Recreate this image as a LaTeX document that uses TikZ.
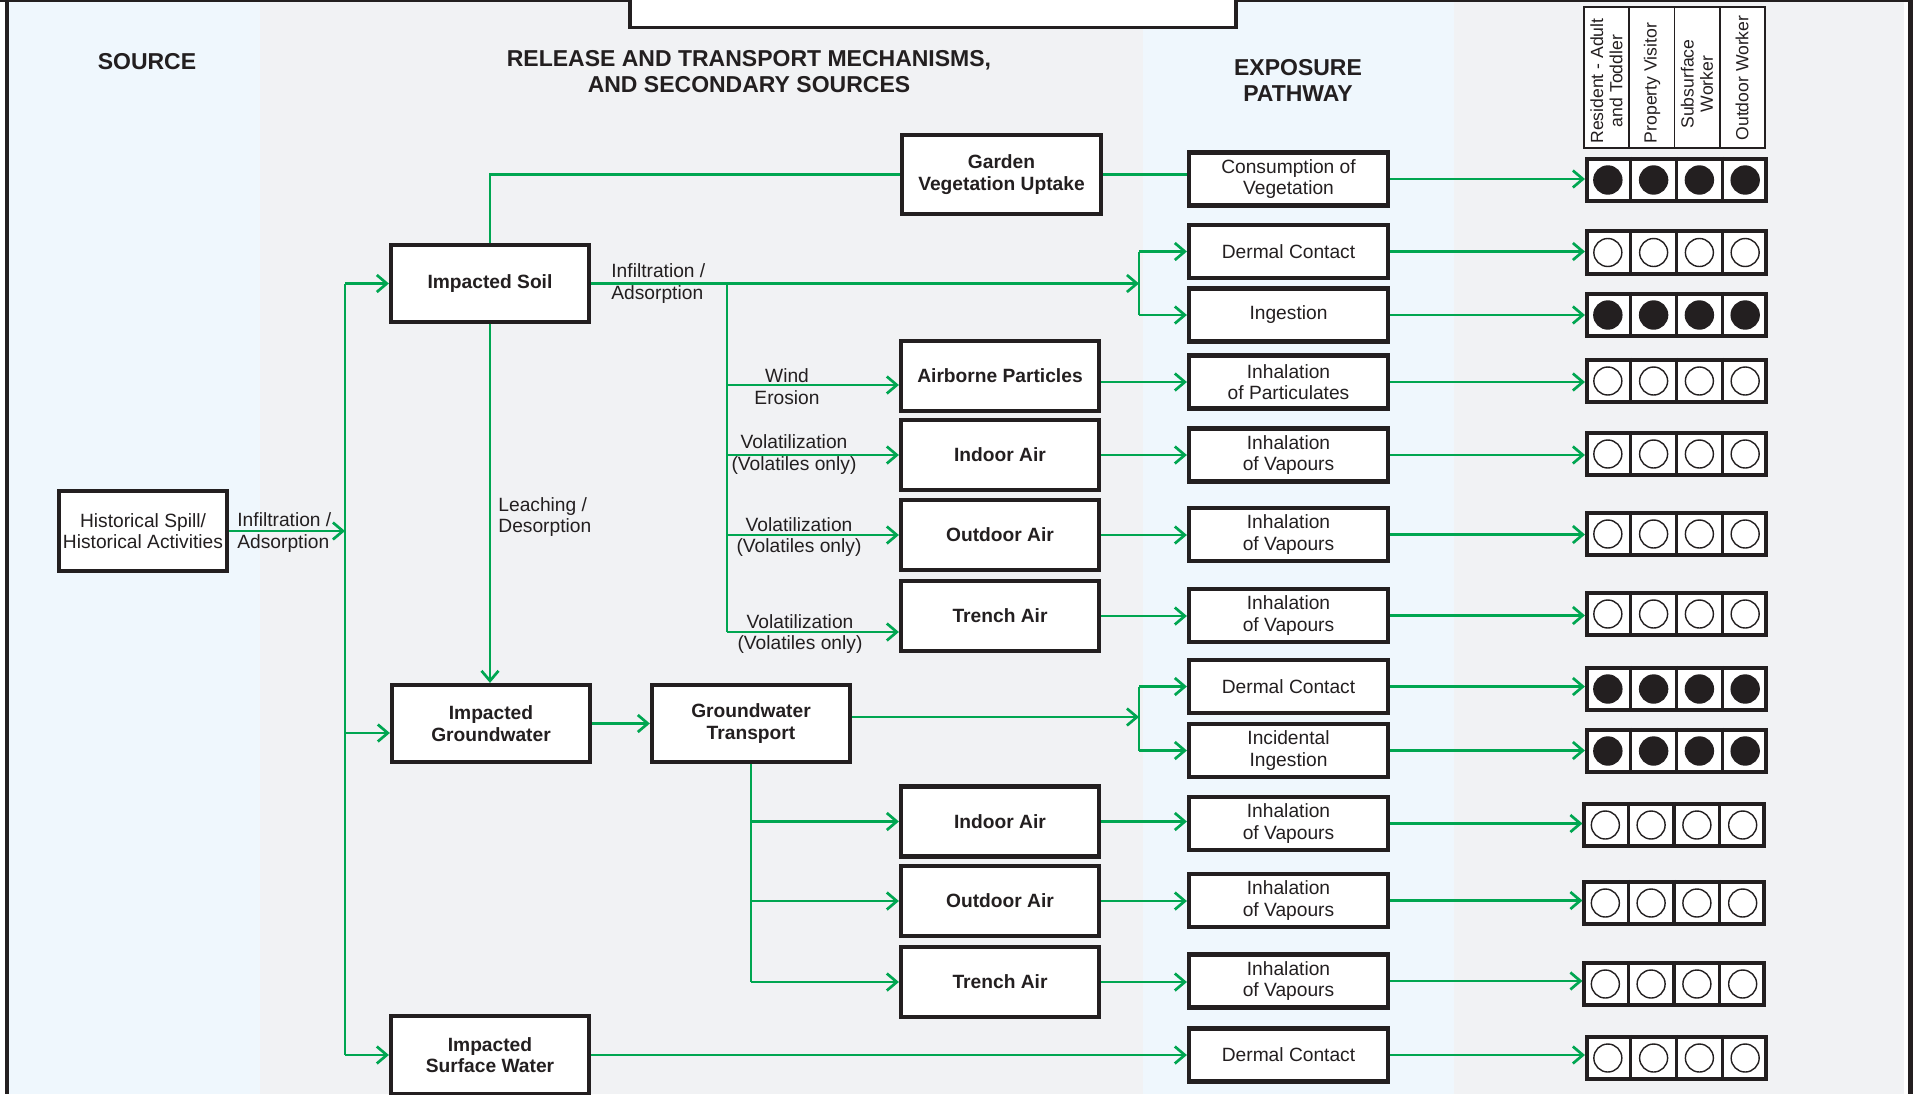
\documentclass[tikz,border=0pt]{standalone}
\usepackage{fontspec}
\setmainfont{Liberation Sans}
\usetikzlibrary{arrows.meta,calc}
\definecolor{ink}{HTML}{231F20}
\definecolor{flowgreen}{HTML}{00A651}
\definecolor{paneblue}{HTML}{EFF7FD}
\definecolor{panegray}{HTML}{F1F2F4}

% one receptor row: name, x, y, dot style
\newcommand\recrow[4]{%
  \node[recbox] (#1) at (#2,#3) {};
  \foreach \k in {1,2,3}{%
    \draw[recline] ($(#1.north west)!\k/4!(#1.north east)$) -- ($(#1.south west)!\k/4!(#1.south east)$);}
  \foreach \k in {1,3,5,7}{%
    \draw[#4] ($(#1.west)!\k/8!(#1.east)$) circle[radius=7pt];}
}

\begin{document}
\begin{tikzpicture}[x=0.5pt,y=-0.5pt,
  sz/.style 2 args={minimum width=#1*0.5pt, minimum height=#2*0.5pt},
  box/.style={draw=ink, line width=2.1pt, fill=white, inner sep=0pt, align=center,
    text=ink, font=\fontsize{9.6}{10.8}\selectfont\bfseries},
  expbox/.style={box, font=\fontsize{9.6}{10.8}\selectfont, sz={199}{53}},
  midbox/.style={box, sz={198}{70}},
  lbl/.style={text=ink, font=\fontsize{9.6}{10.8}\selectfont, inner sep=0pt},
  hdr/.style={text=ink, font=\fontsize{11.5}{13}\selectfont\bfseries, align=center, inner sep=0pt},
  rotlbl/.style={text=ink, font=\fontsize{8.8}{9.6}\selectfont, align=center, inner sep=0pt, rotate=90},
  flow/.style={draw=flowgreen, line width=1.35pt},
  arr/.style={flow, -{Straight Barb[length=5pt,width=8.5pt]}},
  recbox/.style={draw=ink, line width=1.8pt, fill=white, minimum width=179.5*0.5pt, minimum height=42.5*0.5pt, inner sep=0pt},
  recline/.style={draw=ink, line width=1.6pt},
  dotfull/.style={draw=ink, fill=ink, line width=0.7pt},
  dotopen/.style={draw=ink, fill=white, line width=0.7pt},
]
\useasboundingbox (0,0) rectangle (1913,1094);
\clip (0,0) rectangle (1913,1094);

% column panels
\fill[white] (0,0) rectangle (1913,1094);
\fill[paneblue] (9,0) rectangle (260,1094);
\fill[panegray] (260,0) rectangle (1143,1094);
\fill[paneblue] (1143,0) rectangle (1454,1094);
\fill[panegray] (1454,0) rectangle (1904,1094);

% frame
\draw[ink, line width=1pt] (0,1) -- (1913,1);
\draw[ink, line width=2.25pt] (6.75,0) -- (6.75,1094);
\draw[ink, line width=2.5pt] (1910.5,0) -- (1910.5,1094);
\draw[ink, line width=1.75pt, fill=white] (630,-20) rectangle (1236,27.5);

% column headings
\node[hdr] (hsrc) at (147,62) {SOURCE};
\node[hdr] (hrel) at (749,72) {RELEASE AND TRANSPORT MECHANISMS,\\AND SECONDARY SOURCES};
\node[hdr] (hexp) at (1298,80) {EXPOSURE\\PATHWAY};

% receptor heading table
\node[draw=ink, line width=0.75pt, fill=white, inner sep=0pt, minimum width=181*0.5pt, minimum height=141*0.5pt] (rh) at (1674.5,77.5) {};
\foreach \k in {1,2,3}{%
  \draw[ink, line width=0.75pt] ($(rh.north west)!\k/4!(rh.north east)$) -- ($(rh.south west)!\k/4!(rh.south east)$);}
\node[rotlbl] (rc1) at (1606.5,81) {Resident - Adult\\and Toddler};
\node[rotlbl] (rc2) at (1652,83) {Property Visitor};
\node[rotlbl] (rc3) at (1697,84) {Subsurface\\Worker};
\node[rotlbl] (rc4) at (1742,78) {Outdoor Worker};

% sources and secondary sources
\node[box, sz={168}{80}, font=\fontsize{9.6}{10.8}\selectfont] (src) at (143,531) {Historical Spill/\\Historical Activities};
\node[box, sz={198}{77}] (soil) at (490,283.5) {Impacted Soil};
\node[box, sz={198}{77}] (gw) at (491,723.5) {Impacted\\Groundwater};
\node[box, sz={198}{78}] (sw) at (490,1055) {Impacted\\Surface Water};
\node[box, sz={199}{79}] (garden) at (1001.5,174.5) {Garden\\Vegetation Uptake};
\node[box, sz={198}{77}] (gt) at (751,723.5) {Groundwater\\Transport};

\node[midbox] (mpart) at (1000,376) {Airborne Particles};
\node[midbox] (mia) at (1000,455) {Indoor Air};
\node[midbox] (moa) at (1000,535) {Outdoor Air};
\node[midbox] (mta) at (1000,616) {Trench Air};
\node[midbox] (mib) at (1000,821.5) {Indoor Air};
\node[midbox] (mob) at (1000,901) {Outdoor Air};
\node[midbox] (mtb) at (1000,982) {Trench Air};

% exposure pathways
\node[expbox] (e1) at (1288.5,179) {Consumption of\\Vegetation};
\node[expbox] (e2) at (1288.5,251.5) {Dermal Contact};
\node[expbox] (e3) at (1288.5,315) {Ingestion};
\node[expbox] (e4) at (1288.5,382) {Inhalation\\of Particulates};
\node[expbox] (e5) at (1288.5,455) {Inhalation\\of Vapours};
\node[expbox] (e6) at (1288.5,534.5) {Inhalation\\of Vapours};
\node[expbox] (e7) at (1288.5,615.5) {Inhalation\\of Vapours};
\node[expbox] (e8) at (1288.5,686.5) {Dermal Contact};
\node[expbox] (e9) at (1288.5,750.5) {Incidental\\Ingestion};
\node[expbox] (e10) at (1288.5,823.5) {Inhalation\\of Vapours};
\node[expbox] (e11) at (1288.5,900.5) {Inhalation\\of Vapours};
\node[expbox] (e12) at (1288.5,981) {Inhalation\\of Vapours};
\node[expbox] (e13) at (1288.5,1055) {Dermal Contact};

% receptor rows
\recrow{r1}{1676.5}{180}{dotfull}
\recrow{r2}{1676.5}{252.5}{dotopen}
\recrow{r3}{1676.5}{315}{dotfull}
\recrow{r4}{1676.5}{381}{dotopen}
\recrow{r5}{1676.5}{454}{dotopen}
\recrow{r6}{1676.5}{534}{dotopen}
\recrow{r7}{1676.5}{614}{dotopen}
\recrow{r8}{1676.5}{689}{dotfull}
\recrow{r9}{1676.5}{751}{dotfull}
\recrow{r10}{1674}{825}{dotopen}
\recrow{r11}{1674}{903}{dotopen}
\recrow{r12}{1674}{984}{dotopen}
\recrow{r13}{1676.5}{1058}{dotopen}

% source trunk
\coordinate (tkx) at (345,0);
\coordinate (gwin) at (345,733);
\draw[arr] (src.east) -- (src.east -| tkx);
\draw[flow] (soil.west -| tkx) -- (sw.west -| tkx);
\draw[arr] (soil.west -| tkx) -- (soil.west);
\draw[arr] (gwin) -- (gwin -| gw.west);
\draw[arr] (sw.west -| tkx) -- (sw.west);
\node[lbl, anchor=west, align=left] (l1) at (237,532.5) {Infiltration /\\Adsorption};

% impacted soil
\draw[flow] (soil.north) |- (garden.west);
\draw[flow] (garden.east) -- (garden.east -| e1.west);
\coordinate (fk1) at (1139,283.5);
\draw[arr] (soil.east) -- (soil.east -| fk1);
\draw[flow] (fk1 |- e2.west) -- (fk1 |- e3.west);
\draw[arr] (fk1 |- e2.west) -- (e2.west);
\draw[arr] (fk1 |- e3.west) -- (e3.west);
\node[lbl, anchor=west, align=left] (l2) at (611,283.5) {Infiltration /\\Adsorption};

\coordinate (sbx) at (727,0);
\coordinate (w1) at (727,385);
\coordinate (w4) at (727,632);
\draw[flow] (soil.east -| sbx) -- (w4);
\draw[arr] (w1) -- (w1 -| mpart.west);
\draw[arr] (mia.west -| sbx) -- (mia.west);
\draw[arr] (moa.west -| sbx) -- (moa.west);
\draw[arr] (w4) -- (w4 -| mta.west);
\node[lbl, align=center] (l3) at (787,386.5) {Wind\\Erosion};
\node[lbl, align=center] (l4) at (794,454.5) {Volatilization\\(Volatiles only)};
\node[lbl, align=center] (l5) at (799,537) {Volatilization\\(Volatiles only)};
\node[lbl, align=center] (l6) at (800,634) {Volatilization\\(Volatiles only)};

\draw[arr] (soil.south) -- (soil.south |- gw.north);
\node[lbl, anchor=west, align=left] (l7) at (498,517) {Leaching /\\Desorption};

% groundwater
\draw[arr] (gw.east) -- (gt.west);
\coordinate (fk2) at (1139,717);
\draw[arr] (fk2 -| gt.east) -- (fk2);
\draw[flow] (fk2 |- e8.west) -- (fk2 |- e9.west);
\draw[arr] (fk2 |- e8.west) -- (e8.west);
\draw[arr] (fk2 |- e9.west) -- (e9.west);
\draw[flow] (gt.south) -- (gt.south |- mtb.west);
\draw[arr] (gt.south |- mib.west) -- (mib.west);
\draw[arr] (gt.south |- mob.west) -- (mob.west);
\draw[arr] (gt.south |- mtb.west) -- (mtb.west);

% release media to exposure pathways
\draw[arr] (e4.west -| mpart.east) -- (e4.west);
\draw[arr] (mia.east) -- (mia.east -| e5.west);
\draw[arr] (moa.east) -- (moa.east -| e6.west);
\draw[arr] (mta.east) -- (mta.east -| e7.west);
\draw[arr] (mib.east) -- (mib.east -| e10.west);
\draw[arr] (mob.east) -- (mob.east -| e11.west);
\draw[arr] (mtb.east) -- (mtb.east -| e12.west);
\draw[arr] (sw.east) -- (sw.east -| e13.west);

% exposure pathways to receptors
\foreach \i in {1,...,13}{%
  \draw[arr] (e\i.east) -- (e\i.east -| r\i.west);}
\end{tikzpicture}
\end{document}
